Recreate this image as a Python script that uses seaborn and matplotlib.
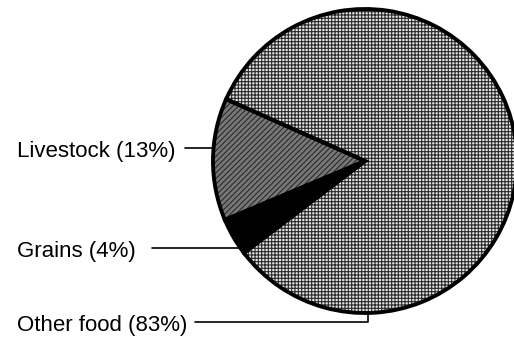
import numpy as np
import matplotlib
matplotlib.use("Agg")
import matplotlib.pyplot as plt
import seaborn as sns

# Dados
categorias = ["Livestock", "Grains", "Other food"]
percentuais = [13, 4, 83]
rotulos = ["Livestock (13%)", "Grains (4%)", "Other food (83%)"]

sns.set_style("white")
plt.rcParams['font.family'] = ['Liberation Sans', 'DejaVu Sans']
plt.rcParams['hatch.linewidth'] = 0.8

fig = plt.figure(figsize=(5.14, 3.37), dpi=100)
ax = fig.add_axes([0, 0, 1, 1])

# Geometria em pixels (y para cima)
cx, cy, r = 365, 176, 152

cores = ['#777777', '#000000', '#e4e4e4']
hachuras = ['//////', None, '+++++']

# Preenchimento com hachura (cor da hachura = edgecolor)
fatias, _ = ax.pie(percentuais, startangle=156, counterclock=True,
                   center=(cx, cy), radius=r, colors=cores, hatch=hachuras,
                   wedgeprops=dict(edgecolor='#2a2a2a', linewidth=0))
# Contorno preto por cima
ax.pie(percentuais, startangle=156, counterclock=True,
       center=(cx, cy), radius=r, colors=['none'] * 3,
       wedgeprops=dict(edgecolor='black', linewidth=2.8))

ax.set_xlim(0, 514)
ax.set_ylim(0, 337)
ax.set_aspect('equal')
ax.axis('off')

# Rótulos à esquerda com linhas de chamada
x_texto = 17
y_rotulos = [337 - 151, 337 - 251, 337 - 325]
y_linhas = [337 - 148, 337 - 248, 337 - 322]
x_inicio = [185, 152, 195]

for i, rot in enumerate(rotulos):
    ax.text(x_texto, y_rotulos[i], rot, fontsize=16, va='center', ha='left',
            color='black')
    yl = y_linhas[i]
    if categorias[i] == "Other food":
        # desce até abaixo do círculo e sobe até a borda
        xb = cx + 3
        yb = cy - np.sqrt(r ** 2 - (xb - cx) ** 2)
        ax.plot([x_inicio[i], xb, xb], [yl, yl, yb], color='black', lw=1.2)
    else:
        xb = cx - np.sqrt(r ** 2 - (yl - cy) ** 2)
        ax.plot([x_inicio[i], xb], [yl, yl], color='black', lw=1.2)

fig.savefig("out.png", dpi=100)
